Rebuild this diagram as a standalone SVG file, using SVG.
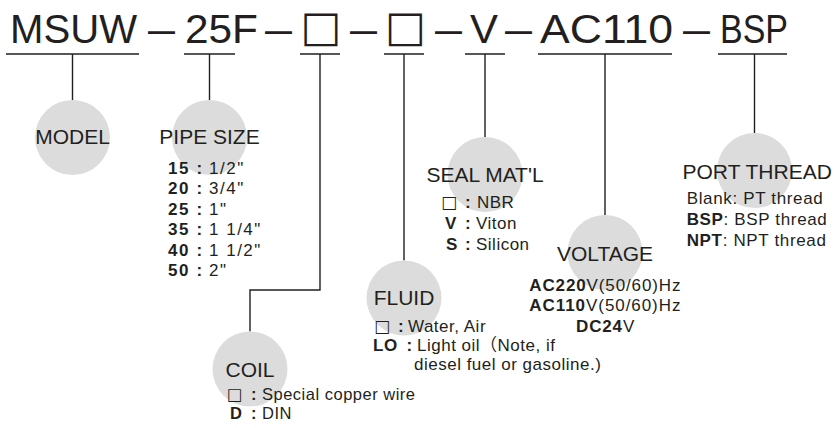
<svg xmlns="http://www.w3.org/2000/svg" width="835" height="428" viewBox="0 0 835 428">
<style>
text{font-family:"Liberation Sans","Noto Sans CJK SC",sans-serif;fill:#231f20}
.t{font-size:40px}
.bx{font-family:"DejaVu Sans",sans-serif}
.tb{font-size:43px}
.lbl{font-size:21px;text-anchor:middle}
.li{font-size:17px;letter-spacing:0.5px}
.b{font-weight:bold}
.c{fill:#dcdcdc}
.ln{stroke:#231f20;stroke-width:1.4;fill:none}
</style>
<rect width="835" height="428" fill="#fff"/>
<g id="code">
<text class="t" x="10" y="43" textLength="127" lengthAdjust="spacingAndGlyphs">MSUW</text>
<text class="t" x="148" y="43" textLength="27" lengthAdjust="spacingAndGlyphs">–</text>
<text class="t" x="185" y="43" textLength="73" lengthAdjust="spacingAndGlyphs">25F</text>
<text class="t" x="265" y="43" textLength="27" lengthAdjust="spacingAndGlyphs">–</text>
<text class="bx tb" x="300.5" y="40.7">□</text>
<text class="t" x="350" y="43" textLength="27" lengthAdjust="spacingAndGlyphs">–</text>
<text class="bx tb" x="385" y="40.7">□</text>
<text class="t" x="435" y="43" textLength="27" lengthAdjust="spacingAndGlyphs">–</text>
<text class="t" x="470" y="43" textLength="28" lengthAdjust="spacingAndGlyphs">V</text>
<text class="t" x="505" y="43" textLength="27" lengthAdjust="spacingAndGlyphs">–</text>
<text class="t" x="540" y="43" textLength="133" lengthAdjust="spacingAndGlyphs">AC110</text>
<text class="t" x="683" y="43" textLength="27" lengthAdjust="spacingAndGlyphs">–</text>
<text class="t" x="720" y="43" textLength="68" lengthAdjust="spacingAndGlyphs">BSP</text>
</g>
<g id="connectors" class="ln">
<path d="M6 54H139M184 54H235M300 54H340M384 54H424M465 54H505M538 54H672M718 54H787"/>
<path d="M72.5 54V100M209.5 54V100M320 54V290H250V331.5M404 54V260.5M485 54V137M605 54V215M754.5 54V133"/>
</g>
<g id="model">
<circle class="c" cx="72.5" cy="137.5" r="37.5"/>
<text class="lbl" x="72.5" y="144.3">MODEL</text>
</g>
<g id="pipe-size">
<circle class="c" cx="209.5" cy="137.5" r="37.5"/>
<text class="lbl" x="209.5" y="144.3">PIPE SIZE</text>
<g class="li" style="letter-spacing:1.5px">
<text y="173.5"><tspan class="b" x="168">15</tspan><tspan class="b" x="196.5">:</tspan><tspan x="209">1/2"</tspan></text>
<text y="194"><tspan class="b" x="168">20</tspan><tspan class="b" x="196.5">:</tspan><tspan x="209">3/4"</tspan></text>
<text y="214.5"><tspan class="b" x="168">25</tspan><tspan class="b" x="196.5">:</tspan><tspan x="209">1"</tspan></text>
<text y="235"><tspan class="b" x="168">35</tspan><tspan class="b" x="196.5">:</tspan><tspan x="209">1 1/4"</tspan></text>
<text y="255.5"><tspan class="b" x="168">40</tspan><tspan class="b" x="196.5">:</tspan><tspan x="209">1 1/2"</tspan></text>
<text y="276"><tspan class="b" x="168">50</tspan><tspan class="b" x="196.5">:</tspan><tspan x="209">2"</tspan></text>
</g>
</g>
<g id="coil">
<circle class="c" cx="250" cy="369" r="37.5"/>
<text class="lbl" x="250" y="377.3">COIL</text>
<g class="li" style="font-size:16.5px">
<text y="400"><tspan class="bx" x="227">□</tspan><tspan class="b" x="251">:</tspan><tspan x="262">Special copper wire</tspan></text>
<text y="418.5"><tspan class="b" x="230">D</tspan><tspan class="b" x="251">:</tspan><tspan x="262">DIN</tspan></text>
</g>
</g>
<g id="fluid">
<circle class="c" cx="404" cy="298" r="37.5"/>
<text class="lbl" x="404" y="305">FLUID</text>
<g class="li">
<text y="332"><tspan class="bx" x="374">□</tspan><tspan class="b" x="398">:</tspan><tspan x="408">Water, Air</tspan></text>
<text y="351"><tspan class="b" x="373">LO</tspan><tspan class="b" x="406.5">:</tspan><tspan x="417">Light oil（Note, if</tspan></text>
<text x="414" y="370">diesel fuel or gasoline.)</text>
</g>
</g>
<g id="seal-matl">
<circle class="c" cx="485" cy="174.5" r="37.5"/>
<text class="lbl" x="485" y="181.7">SEAL MAT'L</text>
<g class="li">
<text y="207.7"><tspan class="bx" x="441">□</tspan><tspan class="b" x="465">:</tspan><tspan x="477">NBR</tspan></text>
<text y="228.7"><tspan class="b" x="445">V</tspan><tspan class="b" x="465">:</tspan><tspan x="476">Viton</tspan></text>
<text y="249.5"><tspan class="b" x="446">S</tspan><tspan class="b" x="465">:</tspan><tspan x="476">Silicon</tspan></text>
</g>
</g>
<g id="voltage">
<circle class="c" cx="605" cy="252.5" r="37.5"/>
<text class="lbl" x="605" y="260.7">VOLTAGE</text>
<g class="li" style="letter-spacing:0.85px">
<text x="529.3" y="290.7" textLength="152"><tspan class="b">AC220</tspan>V(50/60)Hz</text>
<text x="529.3" y="311.2" textLength="152"><tspan class="b">AC110</tspan>V(50/60)Hz</text>
<text x="576" y="332"><tspan class="b">DC24</tspan>V</text>
</g>
</g>
<g id="port-thread">
<circle class="c" cx="754.5" cy="170.5" r="37.5"/>
<text class="lbl" x="757.2" y="179">PORT THREAD</text>
<g class="li" style="letter-spacing:0.65px">
<text x="686.7" y="204">Blank: PT thread</text>
<text x="686.7" y="225"><tspan class="b">BSP</tspan>: BSP thread</text>
<text x="686.7" y="245.7"><tspan class="b">NPT</tspan>: NPT thread</text>
</g>
</g>
</svg>
